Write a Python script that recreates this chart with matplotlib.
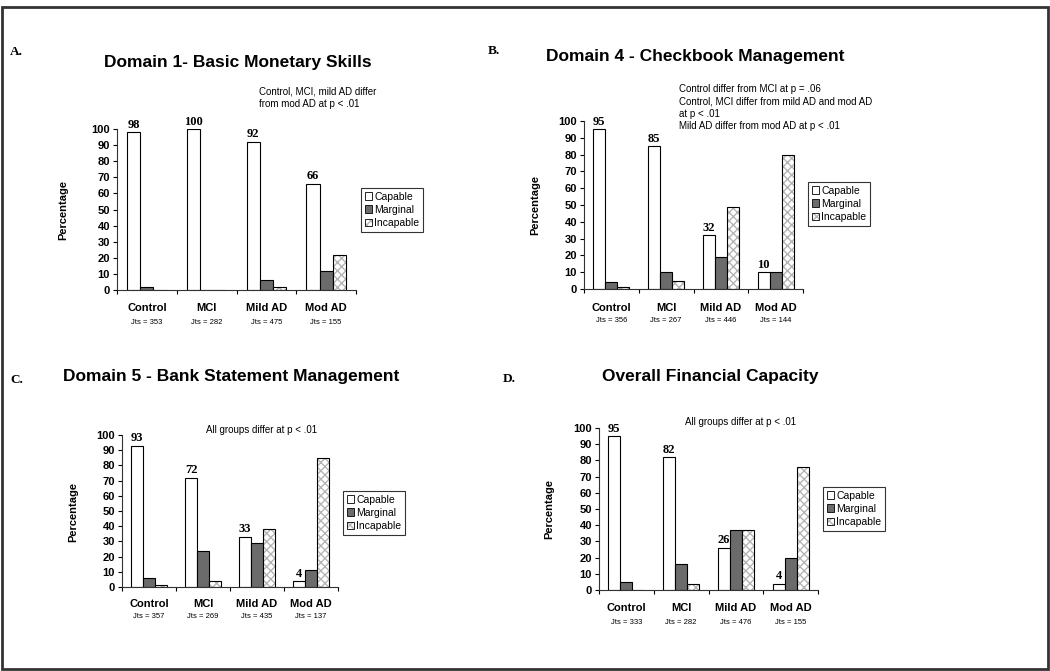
import numpy as np
import matplotlib
matplotlib.use('Agg')
import matplotlib.pyplot as plt
from matplotlib.patches import Patch, Rectangle
from matplotlib.transforms import blended_transform_factory

plt.rcParams['font.family'] = ['Liberation Sans', 'DejaVu Sans']

groups = ['Control', 'MCI', 'Mild AD', 'Mod AD']
series = ['Capable', 'Marginal', 'Incapable']

# Domain 1
capable_1 = [98, 100, 92, 66]
marginal_1 = [2, 0, 6, 12]
incapable_1 = [0, 0, 2, 22]
jts_1 = [353, 282, 475, 155]

# Domain 4
capable_4 = [95, 85, 32, 10]
marginal_4 = [4, 10, 19, 10]
incapable_4 = [1, 5, 49, 80]
jts_4 = [356, 267, 446, 144]

# Domain 5
capable_5 = [93, 72, 33, 4]
marginal_5 = [6, 24, 29, 11]
incapable_5 = [1, 4, 38, 85]
jts_5 = [357, 269, 435, 137]

# Overall
capable_o = [95, 82, 26, 4]
marginal_o = [5, 16, 37, 20]
incapable_o = [0, 4, 37, 76]
jts_o = [333, 282, 476, 155]

titles = ['Domain 1- Basic Monetary Skills', 'Domain 4 - Checkbook Management',
          'Domain 5 - Bank Statement Management', 'Overall Financial Capacity']
letters = ['A.', 'B.', 'C.', 'D.']
notes = ['Control, MCI, mild AD differ\nfrom mod AD at p < .01',
         'Control differ from MCI at p = .06\nControl, MCI differ from mild AD and mod AD\n'
         'at p < .01\nMild AD differ from mod AD at p < .01',
         'All groups differ at p < .01',
         'All groups differ at p < .01']

W, H = 1050, 671
fig = plt.figure(figsize=(W / 100, H / 100), dpi=100)


def fx(px):
    return px / W


def fy(py):
    return 1 - py / H


# pixel layout of each panel (axes box, title, letter, note, legend, labels)
layout = [
    dict(ax=(117, 356, 129, 290), title=(238, 62), letter=(10, 52), note=(259, 87, 'left'),
         leg=(361, 188), ylab=(63, 210), cat=308, jts=322),
    dict(ax=(584, 803, 121, 289), title=(695, 56), letter=(488, 51), note=(679, 84, 'left'),
         leg=(808, 182), ylab=(535, 205), cat=308, jts=321),
    dict(ax=(122, 338, 435, 587), title=(231, 377), letter=(10, 380), note=(262, 425, 'center'),
         leg=(343, 491), ylab=(73, 512), cat=604, jts=616),
    dict(ax=(599, 818, 428, 590), title=(710, 377), letter=(503, 379), note=(741, 417, 'center'),
         leg=(823, 487), ylab=(549, 509), cat=608, jts=622),
]

data = [(capable_1, marginal_1, incapable_1, jts_1),
        (capable_4, marginal_4, incapable_4, jts_4),
        (capable_5, marginal_5, incapable_5, jts_5),
        (capable_o, marginal_o, incapable_o, jts_o)]

w = 0.22
x = np.arange(len(groups)) + 0.5
gray = '#6b6b6b'
hatch_col = '#b5b5b5'

for i, lay in enumerate(layout):
    cap, mar, inc, jts = data[i]
    l, r, t, b = lay['ax']
    ax = fig.add_axes([fx(l), fy(b), fx(r - l), fy(t) - fy(b)])

    ax.bar(x - w, cap, w, color='white', edgecolor='black', linewidth=0.8)
    ax.bar(x, mar, w, color=gray, edgecolor='black', linewidth=0.8)
    ax.bar(x + w, inc, w, color='white', edgecolor=hatch_col, linewidth=0, hatch='xxxx')
    ax.bar(x + w, inc, w, color='none', edgecolor='black', linewidth=0.8)

    for xi, v in zip(x - w, cap):
        ax.annotate(str(v), (xi, v), xytext=(0, 1), textcoords='offset points',
                    ha='center', va='bottom', fontsize=9, fontweight='bold',
                    family='Liberation Serif', annotation_clip=False)

    ax.set_xlim(0, 4)
    ax.set_ylim(0, 100)
    ax.set_yticks(range(0, 101, 10))
    ax.set_xticks(range(5))
    ax.set_xticklabels([])
    ax.tick_params(axis='y', labelsize=8, length=3, width=0.8, pad=2)
    ax.tick_params(axis='x', length=3, width=0.8)
    for lab in ax.get_yticklabels():
        lab.set_fontweight('bold')
    for s in ['top', 'right']:
        ax.spines[s].set_visible(False)
    for s in ['left', 'bottom']:
        ax.spines[s].set_linewidth(0.8)
        ax.spines[s].set_color('#333333')

    tr = blended_transform_factory(ax.transData, fig.transFigure)
    for xi, g, n in zip(x, groups, jts):
        ax.text(xi, fy(lay['cat']), g, transform=tr, ha='center', va='center',
                fontsize=8, fontweight='bold')
        ax.text(xi, fy(lay['jts']), 'Jts = %d' % n, transform=tr, ha='center',
                va='center', fontsize=5.5)

    handles = [Patch(facecolor='white', edgecolor='black', linewidth=0.6),
               Patch(facecolor=gray, edgecolor='black', linewidth=0.6),
               (Patch(facecolor='white', edgecolor=hatch_col, linewidth=0, hatch='xxxx'),
                Patch(facecolor='none', edgecolor='black', linewidth=0.6))]
    leg = ax.legend(handles, series, loc='upper left',
                    bbox_to_anchor=(fx(lay['leg'][0]), fy(lay['leg'][1])),
                    bbox_transform=fig.transFigure, fontsize=7.5, frameon=True,
                    fancybox=False, edgecolor='black', borderpad=0.35,
                    handlelength=0.7, handleheight=0.7, handletextpad=0.2,
                    labelspacing=0.3, borderaxespad=0)
    leg.get_frame().set_linewidth(0.8)

    fig.text(fx(lay['title'][0]), fy(lay['title'][1]), titles[i], ha='center',
             va='center', fontsize=12.5, fontweight='bold')
    fig.text(fx(lay['letter'][0]), fy(lay['letter'][1]), letters[i], ha='left',
             va='center', fontsize=9.5, fontweight='bold', family='Liberation Serif')
    nx, ny, al = lay['note']
    fig.text(fx(nx), fy(ny), notes[i], ha=al, va='top', fontsize=7,
             linespacing=1.3)
    fig.text(fx(lay['ylab'][0]), fy(lay['ylab'][1]), 'Percentage', rotation=90,
             ha='center', va='center', fontsize=8, fontweight='bold')

# outer frame
fig.patches.append(Rectangle((fx(1.5), fy(669)), fx(1046), fy(7) - fy(669),
                             transform=fig.transFigure, fill=False,
                             edgecolor='#333333', linewidth=2))

fig.savefig('out.png', dpi=100)
